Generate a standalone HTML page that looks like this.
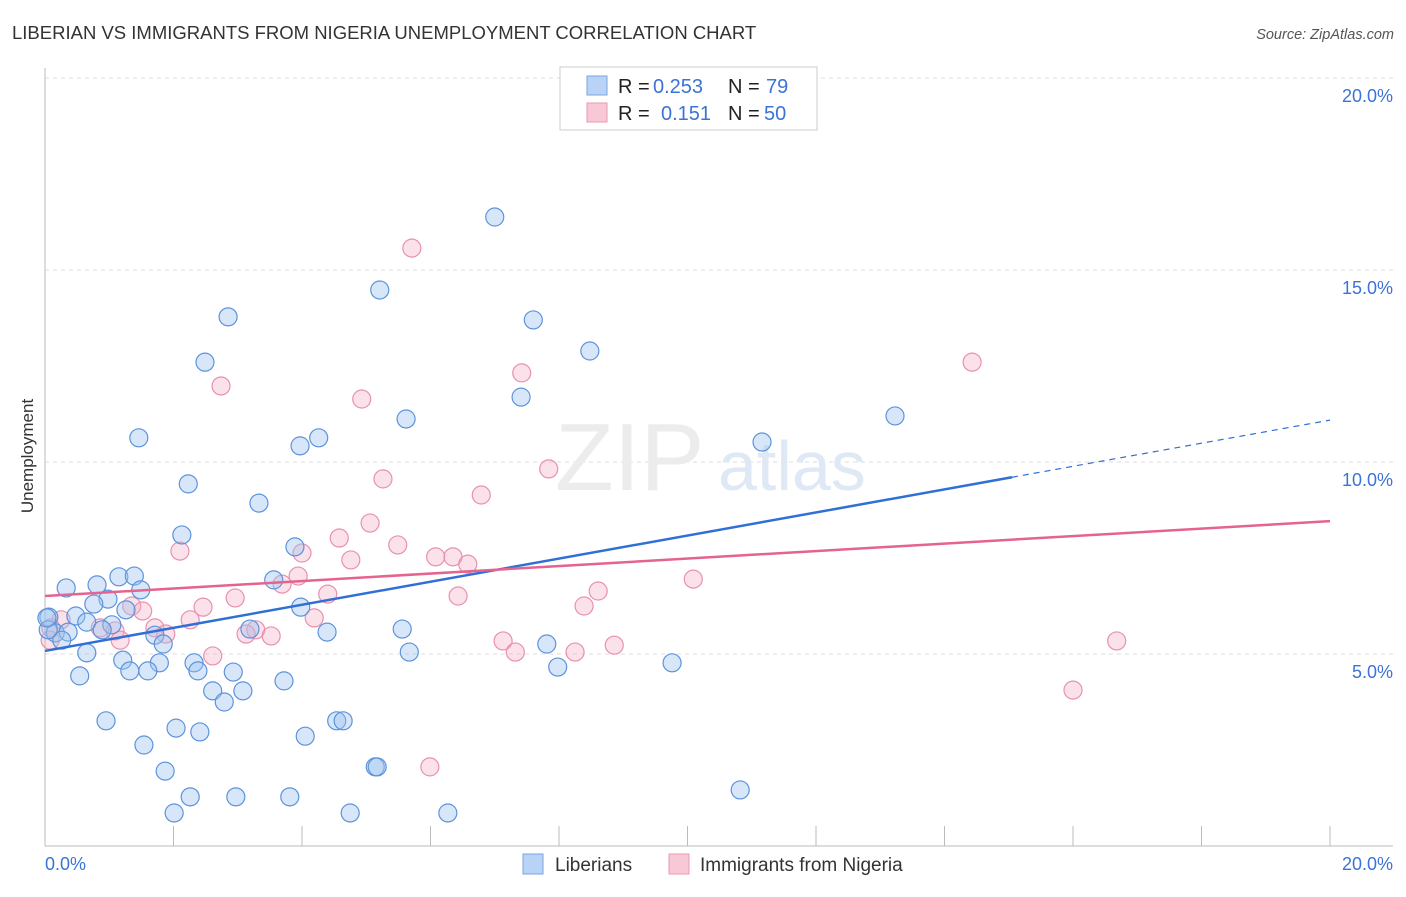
<!DOCTYPE html>
<html><head><meta charset="utf-8">
<style>
body{margin:0;background:#fff;font-family:"Liberation Sans",sans-serif;}
svg text{font-family:"Liberation Sans",sans-serif;}
</style></head>
<body>
<svg width="1406" height="892" xmlns="http://www.w3.org/2000/svg">
<text x="12" y="39" font-size="18.5" fill="#333">LIBERIAN VS IMMIGRANTS FROM NIGERIA UNEMPLOYMENT CORRELATION CHART</text>
<text x="1394" y="39" font-size="14.5" fill="#555" font-style="italic" text-anchor="end">Source: ZipAtlas.com</text>
<text x="33" y="456" font-size="17" fill="#333" text-anchor="middle" transform="rotate(-90 33 456)">Unemployment</text>
<g id="grid"></g>
<text x="555" y="490" font-size="96" fill="#ececec" font-family="Liberation Serif">ZIP</text>
<text x="718" y="490" font-size="70" fill="#dfe8f5">atlas</text>
<g id="pts"></g>
<g id="lines"></g>
<g>
<rect x="560" y="67" width="257" height="63" fill="#fff" stroke="#ccc"/>
<rect x="587" y="76" width="20" height="19" fill="#b8d3f5" stroke="#7aa5e0"/>
<rect x="587" y="103" width="20" height="19" fill="#f8c8d7" stroke="#ea9ab3"/>
<text x="618" y="93" font-size="20" fill="#222">R =</text>
<text x="653" y="93" font-size="20" fill="#3b73d6">0.253</text>
<text x="728" y="93" font-size="20" fill="#222">N =</text>
<text x="766" y="93" font-size="20" fill="#3b73d6">79</text>
<text x="618" y="120" font-size="20" fill="#222">R =</text>
<text x="661" y="120" font-size="20" fill="#3b73d6">0.151</text>
<text x="728" y="120" font-size="20" fill="#222">N =</text>
<text x="764" y="120" font-size="20" fill="#3b73d6">50</text>
</g>
<g>
<rect x="523" y="854" width="20" height="20" fill="#b8d3f5" stroke="#7aa5e0"/>
<text x="555" y="871" font-size="19" fill="#333">Liberians</text>
<rect x="669" y="854" width="20" height="20" fill="#f8c8d7" stroke="#ea9ab3"/>
<text x="700" y="871" font-size="19" fill="#333">Immigrants from Nigeria</text>
</g>
</svg>
<script>
const yTicks=[5,10,15,20];
const yTickLabels=["5.0%","10.0%","15.0%","20.0%"];
const xTickLabels=["0.0%","20.0%"];
const blueX=[7.00,5.21,2.85,7.60,8.48,2.49,7.41,5.62,13.23,1.46,4.26,3.97,11.16,2.23,3.33,2.13,3.89,1.15,1.39,0.33,0.81,3.56,1.49,0.98,0.76,1.26,3.98,0.06,0.48,0.65,1.04,0.16,0.36,0.89,3.19,1.71,4.39,5.56,1.84,0.26,0.65,7.81,5.67,1.21,2.32,1.78,9.76,7.98,1.32,1.60,2.38,2.93,0.54,3.72,2.61,3.08,2.79,0.95,4.54,4.64,2.04,2.41,4.05,1.54,5.14,5.17,1.87,2.26,2.97,3.81,10.82,2.01,4.75,6.27,0.05,0.03];
const blueY=[16.38,14.48,13.78,13.70,12.89,12.60,11.69,11.12,11.20,10.63,10.63,10.42,10.52,9.43,8.93,8.10,7.79,7.01,7.03,6.72,6.80,6.93,6.67,6.43,6.30,6.15,6.22,5.96,5.99,5.83,5.76,5.55,5.57,5.63,5.65,5.49,5.57,5.65,5.26,5.36,5.03,5.26,5.05,4.84,4.77,4.77,4.77,4.66,4.56,4.56,4.56,4.53,4.43,4.30,4.04,4.04,3.75,3.26,3.26,3.26,3.07,2.97,2.86,2.63,2.06,2.06,1.95,1.28,1.28,1.28,1.46,0.86,0.86,0.86,5.63,5.94];
const pinkX=[5.71,14.43,7.42,2.74,4.93,7.84,5.26,6.79,5.06,4.58,5.49,2.10,4.00,6.08,6.35,4.76,6.58,3.94,3.69,10.09,8.61,6.43,2.96,4.40,8.39,1.35,1.52,2.46,2.26,4.19,0.25,1.71,3.28,3.13,3.52,1.88,1.09,0.86,0.09,1.17,7.13,8.86,16.68,7.32,8.25,2.61,16.00,5.99,0.08];
const pinkY=[15.57,12.60,12.32,11.98,11.64,9.82,9.56,9.14,8.41,8.02,7.84,7.68,7.63,7.53,7.53,7.45,7.34,7.03,6.82,6.95,6.64,6.51,6.46,6.56,6.25,6.25,6.12,6.22,5.89,5.94,5.89,5.68,5.63,5.52,5.47,5.52,5.60,5.68,5.68,5.36,5.34,5.23,5.34,5.05,5.05,4.95,4.06,2.06,5.36];
const blueTrend=[5.08,11.09];
const blueSolidEnd=15.05;
const pinkTrend=[6.51,8.46];
const X0=45,X1=1330,Y0=846,YS=38.4;
const sx=v=>X0+(X1-X0)*v/20, sy=v=>Y0-v*YS;
const NS="http://www.w3.org/2000/svg";
function mk(t,a,p){const e=document.createElementNS(NS,t);for(const k in a)e.setAttribute(k,a[k]);p.appendChild(e);return e;}
const g=document.getElementById('grid');
yTicks.forEach((t,i)=>{
 const l=mk('line',{x1:45,x2:1393,y1:sy(t),y2:sy(t),stroke:'#ddd','stroke-dasharray':'4,4'},g);
 
 
 const tx=mk('text',{x:1393,y:sy(t)+24,'font-size':18,fill:'#3b73d6','text-anchor':'end'},g);
 tx.textContent=yTickLabels[i];
 
 
});
mk('line',{x1:45,x2:45,y1:68,y2:846,stroke:'#bbb'},g);
mk('line',{x1:45,x2:1393,y1:846,y2:846,stroke:'#bbb'},g);
for(let i=0;i<=10;i++){const l=mk('line',{x1:sx(i*2),x2:sx(i*2),y1:826,y2:846,stroke:'#bbb'},g);
 
 }
const xl0=mk('text',{x:45,y:870,'font-size':18,fill:'#3b73d6'},g);xl0.textContent=xTickLabels[0];

const xl1=mk('text',{x:1393,y:870,'font-size':18,fill:'#3b73d6','text-anchor':'end'},g);xl1.textContent=xTickLabels[1];

const p=document.getElementById('pts');
pinkX.forEach((x,i)=>{const c=mk('circle',{cx:sx(x),cy:sy(pinkY[i]),r:9,fill:'rgba(244,168,194,0.35)',stroke:'#e991ad','stroke-width':1.2},p);
 
 });
blueX.forEach((x,i)=>{const c=mk('circle',{cx:sx(x),cy:sy(blueY[i]),r:9,fill:'rgba(156,194,240,0.4)',stroke:'#5d93db','stroke-width':1.2},p);
 
 });
const L=document.getElementById('lines');
const bAt=x=>blueTrend[0]+(blueTrend[1]-blueTrend[0])*x/20;
const l1=mk('line',{x1:sx(0),y1:sy(bAt(0)),x2:sx(blueSolidEnd),y2:sy(bAt(blueSolidEnd)),stroke:'#2f6fd6','stroke-width':2.5},L);


const l2=mk('line',{x1:sx(blueSolidEnd),y1:sy(bAt(blueSolidEnd)),x2:sx(20),y2:sy(bAt(20)),stroke:'#2f6fd6','stroke-width':1.2,'stroke-dasharray':'6,5'},L);


const l3=mk('line',{x1:sx(0),y1:sy(pinkTrend[0]),x2:sx(20),y2:sy(pinkTrend[1]),stroke:'#e4638f','stroke-width':2.5},L);


</script>
</body></html>
